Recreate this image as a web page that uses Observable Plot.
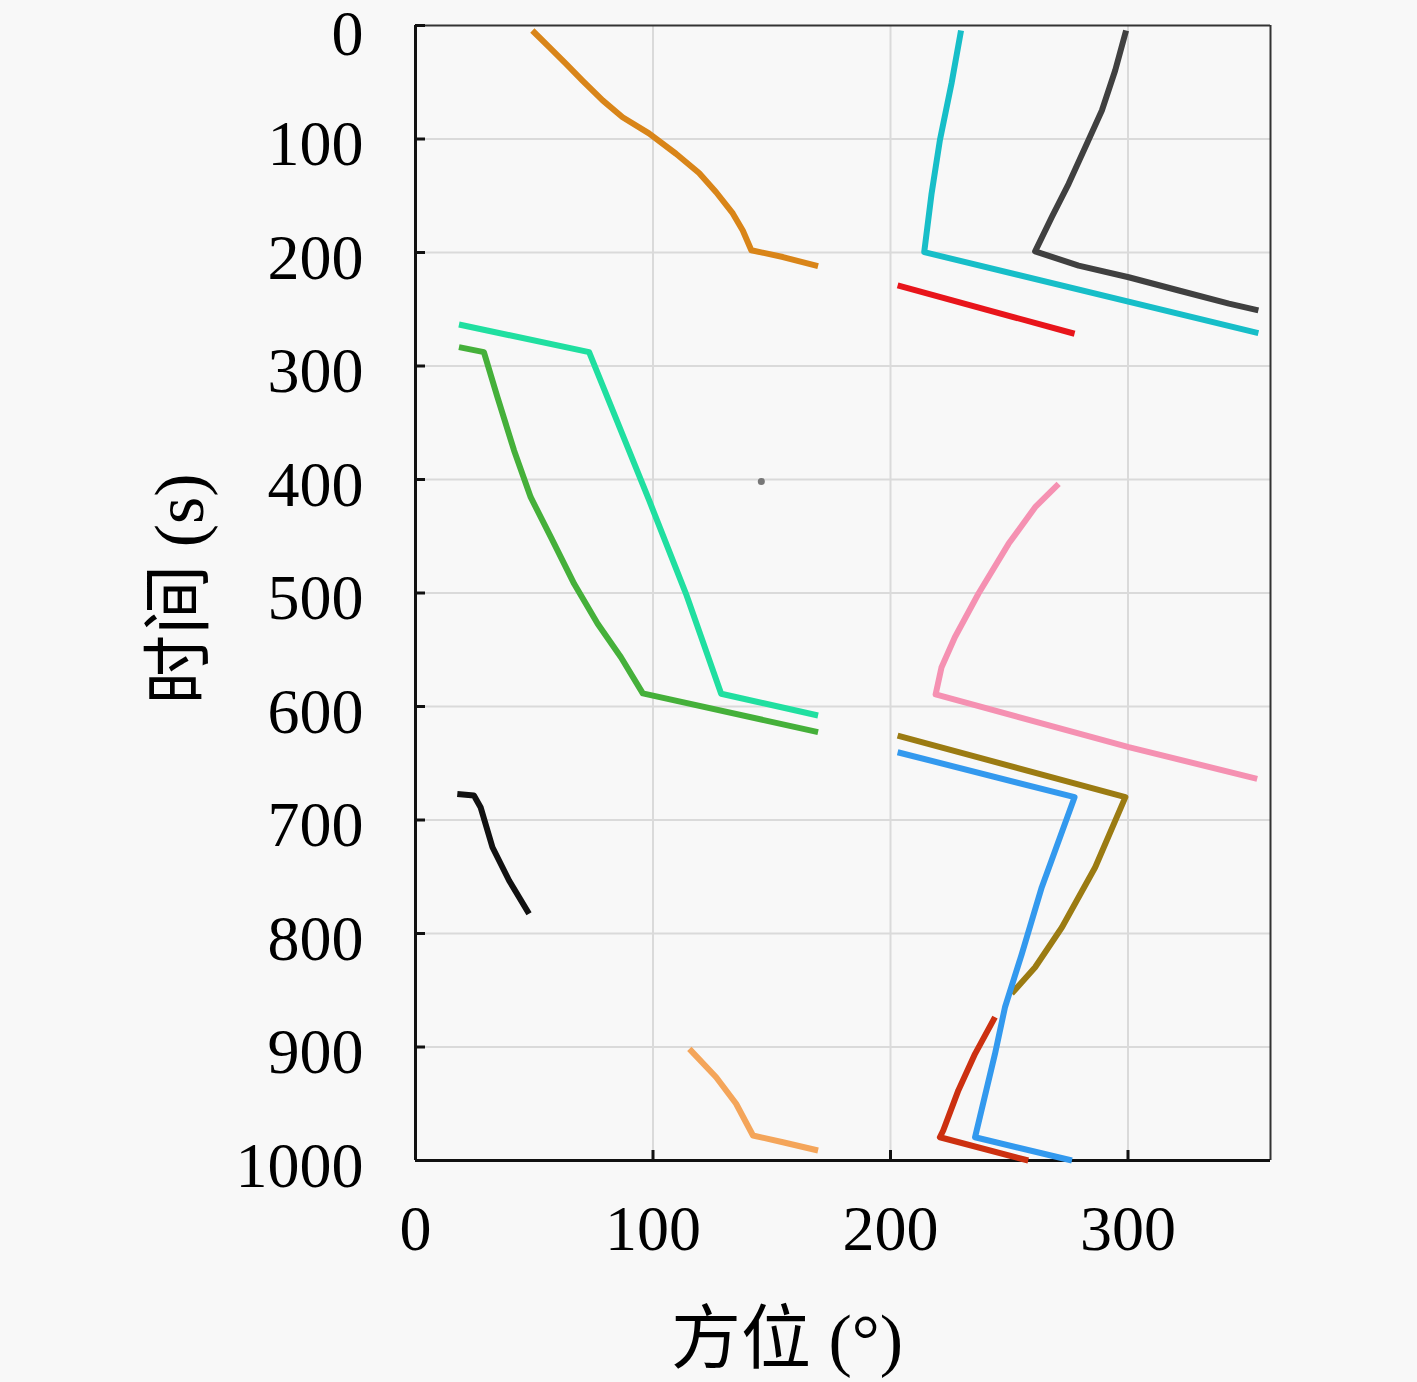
<!DOCTYPE html>
<html>
<head>
<meta charset="utf-8">
<script src="https://cdn.jsdelivr.net/npm/d3@7"></script>
<script src="https://cdn.jsdelivr.net/npm/@observablehq/plot@0.6"></script>
<style>
  html, body { margin: 0; padding: 0; background: #f8f8f8; }
</style>
</head>
<body>
<div id="chart"></div>
<script>
// Each track: [azimuth (°), time (s)] pairs
const trackOrange = [[49.2,4.4],[56.3,19.1],[63.3,33.5],[70.3,48.5],[78.8,66],[87.2,80.8],[98.3,95],[109.7,113],[119.4,130],[126.6,146.9],[133.6,165.6],[137.8,180.6],[141.4,198],[154.7,204],[169.5,212]];
const trackCyan = [[229.7,4.4],[225.7,51],[220.8,101],[217.3,148],[214.2,199.7],[354.9,271]];
const trackGray = [[299.2,4.4],[294.6,39.6],[289,74.9],[282,107.2],[275,139.5],[267.9,168.9],[260.9,199],[279.2,211.5],[300.3,221.8],[321.4,233.5],[342.5,245],[354.9,251]];
const trackRed = [[203,229],[277.5,271.6]];
const trackAqua = [[18.3,263.4],[73.1,287.8],[98.4,418.5],[113.9,500.7],[128.7,588.8],[169.5,607.9]];
const trackGreen = [[18.3,283.4],[28.8,287.8],[34.5,327.5],[41.5,374.4],[48.5,415.6],[57,450.8],[66.8,491.9],[76.7,527.1],[86.5,556.6],[95.7,588.4],[169.5,622.6]];
const trackDot = [[145.6,401.8]];
const trackPink = [[270.8,403.8],[260.9,424.4],[249.7,456.7],[237,500.7],[227.1,539],[221.5,565.4],[219,589.4],[300.3,635.8],[354.4,663.7]];
const trackOlive = [[203,625.6],[298.9,679.9],[286.2,741.6],[272.2,794.5],[260.9,829.7],[251,852.9]];
const trackBlue = [[203,640.3],[277.5,679.9],[263.7,759.2],[255.3,818],[248.2,865],[244,906],[235.6,979.5],[276.4,1000]];
const trackRust = [[244,873.7],[235.6,906],[228.6,938],[222.2,973.6],[220.8,979.5],[258,1000]];
const trackBlack = [[17.6,677],[24.6,678.4],[27.4,688.7],[32.4,724],[39.4,753.3],[47.8,782.6]];
const trackSand = [[115.3,901.6],[126.6,926.6],[135,950],[142.1,978],[154.7,983.9],[169.5,991.2]];

const lineTracks = [trackOrange, trackCyan, trackGray, trackRed, trackAqua, trackGreen, trackPink, trackOlive, trackBlue, trackRust, trackBlack, trackSand];
const lineColors = ["#d98519", "#17bec8", "#404040", "#e8151b", "#20dfa0", "#45b03a", "#f591b2", "#9b7b12", "#3399ee", "#cc3010", "#111111", "#f4a55a"];

const xTicks = [0, 100, 200, 300];
const yTicks = [0, 100, 200, 300, 400, 500, 600, 700, 800, 900, 1000];
const xGrid = [100, 200, 300];
const yGrid = [100, 200, 300, 400, 500, 600, 700, 800, 900];
const xLabel = "方位 (°)";
const yLabel = "时间 (s)";

const serif = "'Liberation Serif', 'DejaVu Serif', serif";
const cjk = "'Liberation Serif', 'Noto Sans CJK SC', serif";

const marks = [
  Plot.gridX(xGrid, {stroke: "#dadada", strokeOpacity: 1, strokeWidth: 2}),
  Plot.gridY(yGrid, {stroke: "#dadada", strokeOpacity: 1, strokeWidth: 2}),
  // frame
  Plot.ruleY([0], {stroke: "#333", strokeWidth: 2}),
  Plot.ruleX([360], {stroke: "#333", strokeWidth: 2}),
  Plot.ruleX([0], {stroke: "#111", strokeWidth: 3}),
  Plot.ruleY([1000], {stroke: "#111", strokeWidth: 3}),
  // inward ticks
  Plot.axisY({ticks: yTicks, tickSize: 10, dx: 10, text: null, stroke: "#111", strokeWidth: 3}),
  Plot.axisX({ticks: xTicks.slice(1), tickSize: 10, dy: -10, text: null, stroke: "#111", strokeWidth: 3}),
  // tick labels
  Plot.axisY({ticks: yTicks.slice(0, 1), tickSize: 0, tickPadding: 52, dy: 9, fontSize: 64, label: null, fill: "#000", tickFormat: d => String(d)}),
  Plot.axisY({ticks: yTicks.slice(1), tickSize: 0, tickPadding: 52, dy: 6, fontSize: 64, label: null, fill: "#000", tickFormat: d => String(d)}),
  Plot.axisX({ticks: xTicks, tickSize: 0, tickPadding: 44, fontSize: 64, label: null, fill: "#000", tickFormat: d => String(d)}),
  Plot.text([yLabel], {frameAnchor: "left", textAnchor: "middle", lineAnchor: "middle", dx: -235, dy: -4, rotate: -90, fontSize: 70, fontFamily: cjk, fill: "#000"}),
  Plot.text([xLabel], {frameAnchor: "bottom", textAnchor: "middle", lineAnchor: "middle", dx: -56, dy: 180, fontSize: 70, fontFamily: cjk, fill: "#000"}),
];

lineTracks.forEach((tr, i) => {
  marks.push(Plot.line(tr, {x: d => d[0], y: d => d[1], stroke: lineColors[i], strokeWidth: 6, strokeLinejoin: "round", strokeLinecap: "butt"}));
});
marks.push(Plot.dot(trackDot, {x: d => d[0], y: d => d[1], r: 3.5, fill: "#777", stroke: "none"}));

const chart = Plot.plot({
  width: 1417,
  height: 1382,
  marginLeft: 415,
  marginRight: 147,
  marginTop: 25,
  marginBottom: 222,
  x: {domain: [0, 360], axis: null},
  y: {domain: [0, 1000], reverse: true, axis: null},
  style: {fontFamily: serif, background: "#f8f8f8", color: "#000", overflow: "visible"},
  marks
});
document.getElementById("chart").appendChild(chart);
</script>
</body>
</html>
